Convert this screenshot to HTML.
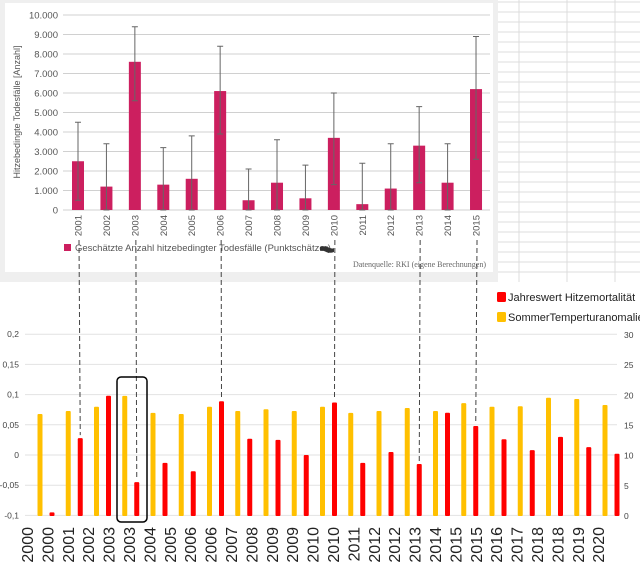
<!DOCTYPE html>
<html><head><meta charset="utf-8"><style>
body{margin:0;width:640px;height:570px;overflow:hidden;background:#fff;font-family:"Liberation Sans",sans-serif}
svg{display:block}
</style></head><body>
<svg width="640" height="570" xmlns="http://www.w3.org/2000/svg">
<rect x="0" y="0" width="498" height="282" fill="#efefef"/>
<rect x="5" y="3" width="488" height="269" fill="#fff"/>
<g id="sheet"></g>
<g id="top"></g>
<g id="bot"></g>
<g id="ann"></g>
</svg>
<script>
const topYears=['2001','2002','2003','2004','2005','2006','2007','2008','2009','2010','2011','2012','2013','2014','2015'];
const topValues=[2500,1200,7600,1300,1600,6100,500,1400,600,3700,300,1100,3300,1400,6200];
const topLow=[500,0,5600,0,0,3900,0,0,0,1300,0,0,1400,0,2600];
const topHigh=[4500,3400,9400,3200,3800,8400,2100,3600,2300,6000,2400,3400,5300,3400,8900];
const topTicks=[0,1000,2000,3000,4000,5000,6000,7000,8000,9000,10000];
const topTickLabels=['0','1.000','2.000','3.000','4.000','5.000','6.000','7.000','8.000','9.000','10.000'];

const botYears=[2000,2001,2002,2003,2004,2005,2006,2007,2008,2009,2010,2011,2012,2013,2014,2015,2016,2017,2018,2019,2020];
const mortality=[-0.095,0.028,0.098,-0.045,-0.013,-0.027,0.089,0.027,0.025,0.0,0.087,-0.013,0.005,-0.015,0.07,0.048,0.026,0.008,0.03,0.013,0.002];
const tempAnomaly=[16.9,17.4,18.1,19.9,17.1,16.9,18.1,17.4,17.7,17.4,18.1,17.1,17.4,17.9,17.4,18.7,18.1,18.2,19.6,19.4,18.4];
const leftTicks=[-0.1,-0.05,0,0.05,0.1,0.15,0.2];
const leftTickLabels=['-0,1','-0,05','0','0,05','0,1','0,15','0,2'];
const rightTicks=[0,5,10,15,20,25,30];
const xLabels=['2000','2000','2001','2002','2003','2003','2004','2005','2006','2006','2007','2008','2009','2009','2010','2010','2011','2012','2012','2013','2014','2015','2015','2016','2017','2018','2018','2019','2020'];
const dashedYears=[2001,2003,2006,2010,2013,2015];

const NS='http://www.w3.org/2000/svg';
function mk(p,t,a,txt){const e=document.createElementNS(NS,t);for(const k in a)e.setAttribute(k,a[k]);if(txt!==undefined)e.textContent=txt;p.appendChild(e);return e;}

const sh=document.getElementById('sheet');
for(let y=2;y<282;y+=10){const l=mk(sh,'line',{x1:498,x2:640,y1:y,y2:y,stroke:'#dcdcdc','stroke-width':1});

}
[519,567,615].forEach(x=>{const l=mk(sh,'line',{x1:x,x2:x,y1:0,y2:282,stroke:'#dcdcdc'});

});

const T=document.getElementById('top');
const tY=v=>210-v*(195/10000);
const tX=i=>78+i*28.43;
topTicks.forEach((v,i)=>{
 const g=mk(T,'line',{x1:63,x2:490,y1:tY(v),y2:tY(v),stroke:'#d0d0d0'});
 
 
 const t=mk(T,'text',{x:58,y:tY(v)+3.5,'font-size':9.5,fill:'#555','text-anchor':'end'},topTickLabels[i]);
 
 
});
const yt=mk(T,'text',{x:0,y:0,'font-size':9,fill:'#555','text-anchor':'middle',transform:'translate(20,112) rotate(-90)'},'Hitzebedingte Todesfälle [Anzahl]');


topYears.forEach((yr,i)=>{
 const x=tX(i);
 const b=mk(T,'rect',{x:x-6,y:tY(topValues[i]),width:12,height:210-tY(topValues[i]),fill:'#cc1f5f'});
 
 
 const e=mk(T,'path',{d:`M${x} ${tY(topLow[i])}V${tY(topHigh[i])}M${x-3} ${tY(topHigh[i])}H${x+3}M${x-3} ${tY(topLow[i])}H${x+3}`,stroke:'#666',fill:'none','stroke-width':1});
 
 
 const t=mk(T,'text',{x:0,y:0,'font-size':9.5,fill:'#555','text-anchor':'end',transform:`translate(${x+3.5},215) rotate(-90)`},yr);
 
 
});
const lg=mk(T,'rect',{x:64,y:244,width:7,height:7,fill:'#cc1f5f'});


const lt=mk(T,'text',{x:75,y:251,'font-size':9.5,fill:'#555'},'Geschätzte Anzahl hitzebedingter Todesfälle (Punktschätzer)');


const src=mk(T,'text',{x:486,y:267,'font-size':8,fill:'#666','text-anchor':'end','font-family':'Liberation Serif,serif'},'Datenquelle: RKI (eigene Berechnungen)');


const sq=mk(T,'path',{d:'M320 247 q5 -2 10 1 q3 1 4 0 v4 q-5 2 -10 -1 q-3 -1 -4 0z',fill:'#333'});



const B=document.getElementById('bot');
const lY=v=>455-v*604;
const rY=v=>516-v*(181/30);
const yX=i=>40+i*28.25;
leftTicks.forEach((v,i)=>{
 const g=mk(B,'line',{x1:25,x2:617,y1:lY(v),y2:lY(v),stroke:'#e2e2e2'});
 
 
 const t=mk(B,'text',{x:19,y:lY(v)+3,'font-size':8.5,fill:'#444','text-anchor':'end'},leftTickLabels[i]);
 
 
});
rightTicks.forEach(v=>{
 const t=mk(B,'text',{x:624,y:rY(v)+3,'font-size':8.5,fill:'#444'},String(v));
 
 
});
botYears.forEach((yr,i)=>{
 const x=yX(i);
 const yb=mk(B,'rect',{x:x-2.5,y:rY(tempAnomaly[i]),width:5,height:516-rY(tempAnomaly[i]),fill:'#ffc000',rx:1});
 
 
 const top=lY(mortality[i]);
 const rb=mk(B,'rect',{x:x+9.5,y:top,width:5,height:516-top,fill:'#ff0000',rx:1});
 
 
});
xLabels.forEach((l,i)=>{
 const x=27+i*20.4;
 const t=mk(B,'text',{x:0,y:0,'font-size':16,fill:'#222','text-anchor':'end',transform:`translate(${x+6},527) rotate(-90)`},l);
 
 
});
const l1=mk(B,'rect',{x:497,y:292,width:9,height:10,fill:'#ff0000',rx:1.5});


const l1t=mk(B,'text',{x:508,y:301,'font-size':11,fill:'#222'},'Jahreswert Hitzemortalität');


const l2=mk(B,'rect',{x:497,y:312,width:9,height:10,fill:'#ffc000',rx:1.5});


const l2t=mk(B,'text',{x:508,y:321,'font-size':11,fill:'#222'},'SommerTemperturanomalie');



const A=document.getElementById('ann');
dashedYears.forEach(yr=>{
 const ti=topYears.indexOf(String(yr)), bi=botYears.indexOf(yr);
 const x1=tX(ti), x2=yX(bi)+12;
 const d=mk(A,'line',{x1:x1+1,x2:x2,y1:240,y2:lY(mortality[bi])-3,stroke:'#444','stroke-dasharray':'5 3','stroke-width':1});
 
 
});
const box=mk(A,'rect',{x:117,y:377,width:30,height:145,rx:4,fill:'none',stroke:'#000','stroke-width':1.5});


</script>
</body></html>
